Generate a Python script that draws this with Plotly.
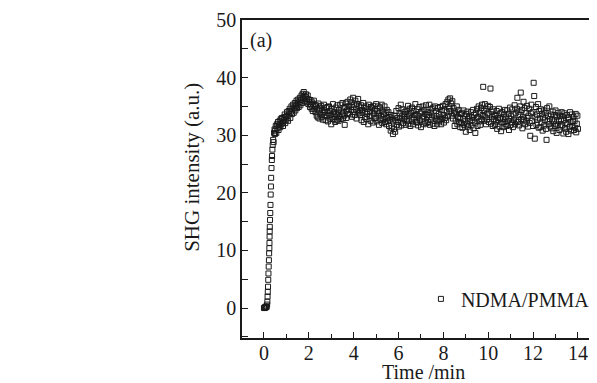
import plotly.graph_objects as go

# ---- data ----
time_rise = [0.00, 0.02, 0.04, 0.06, 0.08, 0.10, 0.12, 0.14, 0.15, 0.16,
             0.17, 0.18, 0.19, 0.20, 0.21, 0.22, 0.23, 0.24, 0.245, 0.25,
             0.255, 0.26, 0.27, 0.28, 0.29, 0.30, 0.31, 0.32, 0.335, 0.35,
             0.36, 0.375, 0.39, 0.41, 0.43, 0.45, 0.47, 0.49]
shg_rise = [0.0, 0.1, 0.0, 0.2, 0.1, 0.3, 0.2, 0.6, 1.1, 2.0,
            2.8, 3.7, 4.9, 6.0, 7.2, 8.3, 9.5, 10.4, 11.3, 12.4,
            13.3, 14.1, 15.3, 16.5, 17.9, 19.7, 21.1, 22.6, 24.3, 25.7,
            26.4, 27.5, 28.3, 29.2, 28.8, 30.4, 31.0, 30.2]

time_early = [0.5, 0.525, 0.55, 0.575, 0.6, 0.625, 0.65, 0.675, 0.7, 0.725, 0.75, 0.775, 0.8, 0.825, 0.85, 0.875, 0.9, 0.925, 0.95, 0.975,
              1.0, 1.025, 1.05, 1.075, 1.1, 1.125, 1.15, 1.175, 1.2, 1.225, 1.25, 1.275, 1.3, 1.325, 1.35, 1.375, 1.4, 1.425, 1.45, 1.475,
              1.5, 1.525, 1.55, 1.575, 1.6, 1.625, 1.65, 1.675, 1.7, 1.725, 1.75, 1.775]
shg_early = [30.8, 31.6, 30.4, 31.9, 31.2, 32.3, 30.9, 31.7, 32.5, 31.4, 32.8, 31.9, 33.0, 32.2, 31.6, 33.1, 32.6, 33.6, 32.1, 33.2,
             32.7, 34.0, 33.3, 32.5, 34.2, 33.6, 34.6, 33.0, 34.1, 35.0, 33.7, 34.5, 35.3, 33.9, 34.8, 35.6, 34.3, 35.1, 36.0, 34.7,
             35.4, 36.2, 34.9, 35.8, 36.5, 35.2, 36.1, 36.9, 35.6, 37.2, 36.4, 37.5]

time_plateau = [
    1.8, 1.825, 1.85, 1.875, 1.9, 1.925, 1.95, 1.975, 2.0, 2.025, 2.05, 2.075, 2.1, 2.125, 2.15, 2.175, 2.2, 2.225, 2.25, 2.275,
    2.3, 2.325, 2.35, 2.375, 2.4, 2.425, 2.45, 2.475, 2.5, 2.525, 2.55, 2.575, 2.6, 2.625, 2.65, 2.675, 2.7, 2.725, 2.75, 2.775,
    2.8, 2.825, 2.85, 2.875, 2.9, 2.925, 2.95, 2.975, 3.0, 3.025, 3.05, 3.075, 3.1, 3.125, 3.15, 3.175, 3.2, 3.225, 3.25, 3.275,
    3.3, 3.325, 3.35, 3.375, 3.4, 3.425, 3.45, 3.475, 3.5, 3.525, 3.55, 3.575, 3.6, 3.625, 3.65, 3.675, 3.7, 3.725, 3.75, 3.775,
    3.8, 3.825, 3.85, 3.875, 3.9, 3.925, 3.95, 3.975, 4.0, 4.025, 4.05, 4.075, 4.1, 4.125, 4.15, 4.175, 4.2, 4.225, 4.25, 4.275,
    4.3, 4.325, 4.35, 4.375, 4.4, 4.425, 4.45, 4.475, 4.5, 4.525, 4.55, 4.575, 4.6, 4.625, 4.65, 4.675, 4.7, 4.725, 4.75, 4.775,
    4.8, 4.825, 4.85, 4.875, 4.9, 4.925, 4.95, 4.975, 5.0, 5.025, 5.05, 5.075, 5.1, 5.125, 5.15, 5.175, 5.2, 5.225, 5.25, 5.275,
    5.3, 5.325, 5.35, 5.375, 5.4, 5.425, 5.45, 5.475, 5.5, 5.525, 5.55, 5.575, 5.6, 5.625, 5.65, 5.675, 5.7, 5.725, 5.75, 5.775,
    5.8, 5.825, 5.85, 5.875, 5.9, 5.925, 5.95, 5.975, 6.0, 6.025, 6.05, 6.075, 6.1, 6.125, 6.15, 6.175, 6.2, 6.225, 6.25, 6.275,
    6.3, 6.325, 6.35, 6.375, 6.4, 6.425, 6.45, 6.475, 6.5, 6.525, 6.55, 6.575, 6.6, 6.625, 6.65, 6.675, 6.7, 6.725, 6.75, 6.775,
    6.8, 6.825, 6.85, 6.875, 6.9, 6.925, 6.95, 6.975, 7.0, 7.025, 7.05, 7.075, 7.1, 7.125, 7.15, 7.175, 7.2, 7.225, 7.25, 7.275,
    7.3, 7.325, 7.35, 7.375, 7.4, 7.425, 7.45, 7.475, 7.5, 7.525, 7.55, 7.575, 7.6, 7.625, 7.65, 7.675, 7.7, 7.725, 7.75, 7.775,
    7.8, 7.825, 7.85, 7.875, 7.9, 7.925, 7.95, 7.975, 8.0, 8.025, 8.05, 8.075, 8.1, 8.125, 8.15, 8.175, 8.2, 8.225, 8.25, 8.275,
    8.3, 8.325, 8.35, 8.375, 8.4, 8.425, 8.45, 8.475, 8.5, 8.525, 8.55, 8.575, 8.6, 8.625, 8.65, 8.675, 8.7, 8.725, 8.75, 8.775,
    8.8, 8.825, 8.85, 8.875, 8.9, 8.925, 8.95, 8.975, 9.0, 9.025, 9.05, 9.075, 9.1, 9.125, 9.15, 9.175, 9.2, 9.225, 9.25, 9.275,
    9.3, 9.325, 9.35, 9.375, 9.4, 9.425, 9.45, 9.475, 9.5, 9.525, 9.55, 9.575, 9.6, 9.625, 9.65, 9.675, 9.7, 9.725, 9.75, 9.775,
    9.8, 9.825, 9.85, 9.875, 9.9, 9.925, 9.95, 9.975, 10.0, 10.025, 10.05, 10.075, 10.1, 10.125, 10.15, 10.175, 10.2, 10.225, 10.25, 10.275,
    10.3, 10.325, 10.35, 10.375, 10.4, 10.425, 10.45, 10.475, 10.5, 10.525, 10.55, 10.575, 10.6, 10.625, 10.65, 10.675, 10.7, 10.725, 10.75, 10.775,
    10.8, 10.825, 10.85, 10.875, 10.9, 10.925, 10.95, 10.975, 11.0, 11.025, 11.05, 11.075, 11.1, 11.125, 11.15, 11.175, 11.2, 11.225, 11.25, 11.275,
    11.3, 11.325, 11.35, 11.375, 11.4, 11.425, 11.45, 11.475, 11.5, 11.525, 11.55, 11.575, 11.6, 11.625, 11.65, 11.675, 11.7, 11.725, 11.75, 11.775,
    11.8, 11.825, 11.85, 11.875, 11.9, 11.925, 11.95, 11.975, 12.0, 12.025, 12.05, 12.075, 12.1, 12.125, 12.15, 12.175, 12.2, 12.225, 12.25, 12.275,
    12.3, 12.325, 12.35, 12.375, 12.4, 12.425, 12.45, 12.475, 12.5, 12.525, 12.55, 12.575, 12.6, 12.625, 12.65, 12.675, 12.7, 12.725, 12.75, 12.775,
    12.8, 12.825, 12.85, 12.875, 12.9, 12.925, 12.95, 12.975, 13.0, 13.025, 13.05, 13.075, 13.1, 13.125, 13.15, 13.175, 13.2, 13.225, 13.25, 13.275,
    13.3, 13.325, 13.35, 13.375, 13.4, 13.425, 13.45, 13.475, 13.5, 13.525, 13.55, 13.575, 13.6, 13.625, 13.65, 13.675, 13.7, 13.725, 13.75, 13.775,
    13.8, 13.825, 13.85, 13.875, 13.9, 13.925, 13.95, 13.975, 14.0]
shg_plateau = [
    36.8, 35.9, 36.6, 37.1, 35.7, 36.3, 36.9, 35.4, 36.2, 35.8, 34.9, 36.1, 35.3, 34.6, 35.7, 34.2, 35.4, 36.0, 34.5, 35.1,
    34.0, 35.2, 33.4, 34.6, 33.1, 35.5, 34.3, 32.9, 34.8, 33.6, 35.1, 33.2, 34.4, 32.7, 33.9, 35.3, 33.5, 34.1, 32.6, 34.7,
    33.3, 34.9, 32.4, 33.8, 35.0, 32.9, 34.2, 33.5, 31.9, 34.6, 33.1, 35.4, 32.8, 34.0, 33.4, 32.3, 34.8, 33.7, 32.6, 35.2,
    33.9, 32.5, 34.4, 33.2, 35.3, 32.8, 34.1, 33.6, 35.6, 32.9, 34.7, 33.4, 31.8, 34.9, 35.5, 33.0, 34.3, 35.8, 33.7, 34.5,
    35.1, 33.6, 36.2, 34.4, 35.7, 33.2, 34.9, 36.5, 34.0, 35.3, 33.5, 36.0, 34.6, 32.9, 35.4, 34.1, 36.3, 33.8, 35.0, 34.3,
    33.5, 35.2, 32.6, 34.4, 33.9, 35.6, 32.3, 34.8, 33.1, 34.1, 35.0, 32.8, 33.7, 34.6, 31.9, 35.3, 33.3, 34.0, 32.5, 34.9,
    33.4, 34.7, 32.2, 35.1, 33.8, 32.9, 34.5, 33.0, 35.4, 32.4, 34.2, 33.6, 35.0, 31.8, 33.9, 34.8, 32.7, 33.3, 35.3, 32.1,
    34.1, 32.8, 33.6, 35.0, 32.3, 33.9, 31.9, 34.4, 33.0, 32.5, 34.0, 31.6, 33.2, 32.7, 30.8, 33.5, 31.3, 32.9, 30.2, 32.4,
    31.1, 33.4, 30.6, 32.6, 34.2, 31.8, 33.0, 32.3, 34.7, 31.5, 33.8, 32.9, 35.3, 31.7, 33.3, 34.5, 32.1, 33.6, 32.8, 34.0,
    33.2, 31.8, 34.3, 32.5, 33.7, 35.1, 32.0, 33.4, 34.6, 31.6, 33.9, 32.7, 34.8, 33.1, 31.9, 34.2, 32.9, 33.5, 35.4, 32.3,
    33.6, 32.2, 34.5, 31.7, 33.3, 34.9, 32.6, 33.8, 31.4, 34.1, 32.9, 35.0, 33.2, 31.9, 34.4, 32.4, 33.7, 35.2, 32.1, 33.5,
    34.0, 32.3, 33.5, 35.3, 31.8, 33.9, 32.7, 34.6, 33.1, 32.0, 34.8, 33.4, 31.6, 35.0, 32.9, 34.2, 33.3, 31.9, 34.7, 32.6,
    33.7, 32.4, 34.9, 33.1, 31.9, 34.4, 32.8, 35.1, 33.5, 32.2, 34.3, 33.0, 35.4, 32.6, 34.0, 35.8, 33.3, 36.2, 34.6, 35.0,
    36.4, 34.2, 35.5, 33.4, 35.9, 32.9, 34.7, 33.8, 31.6, 34.1, 32.5, 33.6, 35.0, 31.9, 33.2, 34.4, 32.3, 33.0, 31.4, 33.7,
    32.1, 33.9, 31.3, 32.8, 34.3, 31.8, 33.4, 32.4, 30.6, 33.7, 32.0, 34.1, 31.5, 32.9, 33.3, 30.9, 32.5, 34.0, 31.7, 33.1,
    32.6, 34.4, 31.2, 33.5, 32.2, 30.4, 33.8, 32.9, 34.6, 31.6, 33.2, 35.0, 32.4, 33.9, 31.8, 34.7, 32.8, 35.3, 33.5, 38.4,
    34.2, 32.5, 35.4, 33.1, 31.9, 34.6, 32.7, 33.8, 35.1, 32.3, 33.6, 34.9, 38.1, 32.0, 34.1, 33.2, 31.6, 34.5, 32.8, 33.4,
    31.8, 33.5, 32.4, 34.2, 31.1, 33.0, 32.6, 34.6, 31.5, 32.9, 33.8, 30.7, 32.2, 34.0, 32.8, 31.4, 33.6, 32.3, 34.4, 31.9,
    33.1, 31.6, 34.3, 32.5, 33.7, 30.9, 32.9, 34.8, 31.8, 33.3, 32.2, 34.5, 31.4, 33.6, 32.7, 35.2, 31.9, 33.9, 32.4, 34.6,
    36.5, 32.3, 34.1, 31.7, 33.5, 35.0, 37.4, 32.8, 34.4, 31.2, 33.2, 35.8, 32.6, 34.7, 31.9, 33.9, 32.4, 35.1, 33.0, 31.5,
    33.4, 34.6, 32.1, 29.9, 33.8, 35.3, 32.5, 34.0, 31.6, 39.1, 36.8, 29.4, 33.1, 34.9, 31.8, 33.6, 32.7, 35.4, 31.3, 34.2,
    32.9, 31.4, 34.5, 32.2, 33.7, 30.8, 33.1, 34.3, 31.7, 32.6, 33.9, 31.1, 29.2, 34.7, 32.4, 33.3, 31.9, 35.0, 32.8, 31.5,
    33.6, 31.2, 32.7, 34.1, 30.7, 32.4, 33.5, 31.6, 34.3, 32.0, 30.4, 33.2, 31.8, 33.9, 32.5, 30.9, 33.4, 31.5, 32.8, 34.0,
    31.7, 33.3, 30.3, 32.6, 33.8, 31.2, 32.1, 30.6, 33.5, 31.9, 32.9, 30.2, 33.1, 31.4, 34.0, 32.3, 30.8, 33.6, 31.6, 32.4,
    33.2, 30.9, 32.5, 31.3, 33.7, 30.5, 32.0, 33.4, 31.1]

series_name = "NDMA/PMMA"
x_title = "Time /min"
y_title = "SHG intensity (a.u.)"
panel_label = "(a)"
x_ticks = [0, 2, 4, 6, 8, 10, 12, 14]
y_ticks = [0, 10, 20, 30, 40, 50]

time_all = time_rise + time_early + time_plateau
shg_all = shg_rise + shg_early + shg_plateau

FONT = "Liberation Serif"
INK = "#1a1a1a"

fig = go.Figure()
fig.add_trace(go.Scatter(
    x=time_all, y=shg_all, mode="markers", name=series_name,
    marker=dict(symbol="square-open", size=5, color=INK, line=dict(width=1, color=INK)),
))

# page body has an 8px default margin, so the figure is 8px smaller on each axis
fig.update_layout(
    width=589, height=375,
    margin=dict(l=234, r=0, t=12, b=45),
    paper_bgcolor="white", plot_bgcolor="white",
    font=dict(family=FONT, size=20, color=INK),
    showlegend=True,
    legend=dict(x=0.504, y=0.123, xanchor="left", yanchor="middle",
                bgcolor="rgba(0,0,0,0)", font=dict(family=FONT, size=20, color=INK),
                itemwidth=30),
    xaxis=dict(
        range=[-0.98, 14.85], tickvals=x_ticks, ticktext=[str(v) for v in x_ticks],
        ticks="inside", ticklen=6, tickwidth=1.2, tickcolor=INK,
        minor=dict(dtick=1, ticks="inside", ticklen=4, tickwidth=1.2, tickcolor=INK),
        showline=True, linecolor=INK, linewidth=1.5, mirror=True,
        showgrid=False, zeroline=False, ticklabelstandoff=-4,
        tickfont=dict(family=FONT, size=20, color=INK),
    ),
    yaxis=dict(
        range=[-5.2, 50], tickvals=y_ticks, ticktext=[str(v) for v in y_ticks],
        ticks="inside", ticklen=6, tickwidth=1.2, tickcolor=INK,
        minor=dict(dtick=5, ticks="inside", ticklen=6, tickwidth=1.2, tickcolor=INK),
        showline=True, linecolor=INK, linewidth=1.5, mirror=False,
        showgrid=False, zeroline=False,
        tickfont=dict(family=FONT, size=20, color=INK),
    ),
    annotations=[
        dict(text=y_title, xref="paper", yref="paper", x=-0.141, y=0.538,
             textangle=-90, showarrow=False, xanchor="center", yanchor="middle",
             font=dict(family=FONT, size=21, color=INK)),
        dict(text=x_title, xref="paper", yref="paper", x=0.51, y=-0.106,
             showarrow=False, xanchor="center", yanchor="middle",
             font=dict(family=FONT, size=20, color=INK)),
        dict(text=panel_label, xref="paper", yref="paper", x=0.0535, y=0.934,
             showarrow=False, xanchor="center", yanchor="middle",
             font=dict(family=FONT, size=20, color=INK)),
    ],
)

fig.write_html("out.html")
